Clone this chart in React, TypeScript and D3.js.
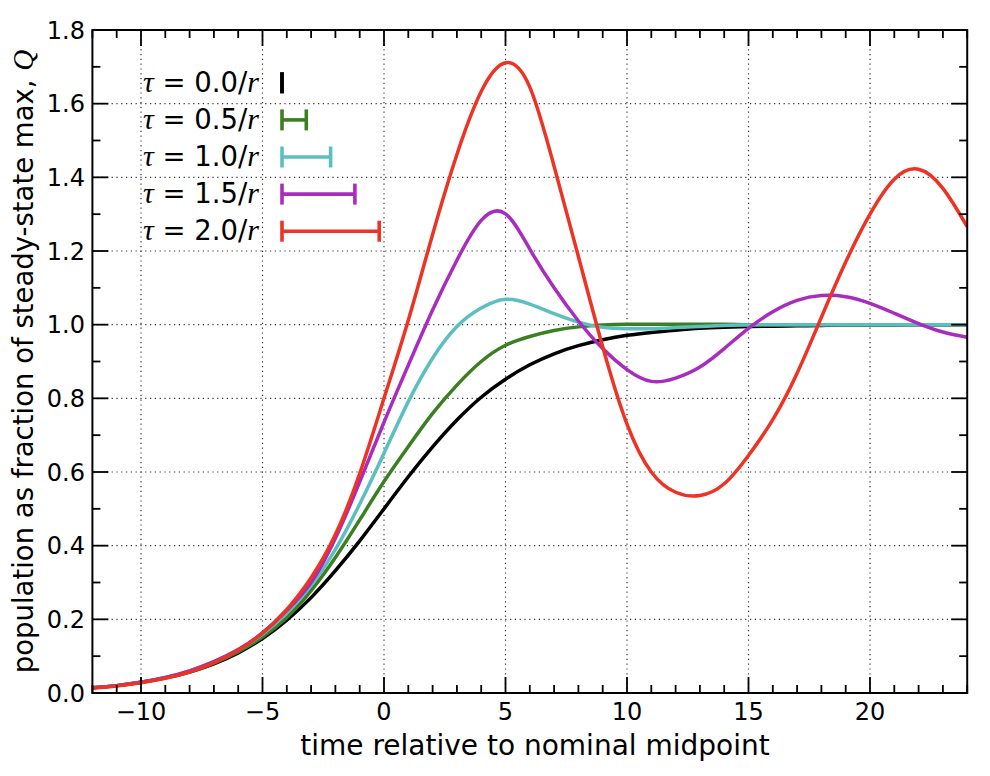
import React from 'react'
import * as d3 from 'd3'

// time axis samples (shared by every series)
const TIMES = [-12, -11, -10, -9, -8, -7, -6, -5, -4, -3, -2, -1, 0, 1, 2, 3, 4, 5, 6, 7, 8, 9, 10, 11, 12, 13, 14, 15, 16, 17, 18, 19, 20, 21, 22, 23, 24]

// population / steady-state max, one array per delay
const TAU_00 = [0.014, 0.020, 0.029, 0.041, 0.057, 0.079, 0.109, 0.148, 0.198, 0.259, 0.332, 0.413, 0.500, 0.587, 0.668, 0.741, 0.803, 0.852, 0.891, 0.921, 0.943, 0.959, 0.971, 0.979, 0.985, 0.990, 0.993, 0.995, 0.996, 0.997, 0.998, 0.999, 0.999, 0.999, 1.000, 1.000, 1.000]
const TAU_05 = [0.014, 0.020, 0.029, 0.041, 0.058, 0.081, 0.112, 0.152, 0.205, 0.278, 0.368, 0.470, 0.574, 0.669, 0.759, 0.836, 0.900, 0.944, 0.968, 0.984, 0.994, 0.999, 1.001, 1.001, 1.001, 1.001, 1.001, 1.000, 1.000, 1.000, 1.000, 1.000, 1.000, 1.000, 1.000, 1.000, 1.000]
const TAU_10 = [0.014, 0.020, 0.029, 0.042, 0.060, 0.085, 0.117, 0.160, 0.218, 0.292, 0.390, 0.513, 0.651, 0.791, 0.909, 0.995, 1.045, 1.069, 1.056, 1.030, 1.007, 0.993, 0.989, 0.989, 0.992, 0.995, 0.998, 0.999, 1.000, 1.000, 1.000, 1.000, 1.000, 1.000, 1.000, 1.000, 1.000]
const TAU_15 = [0.014, 0.020, 0.029, 0.042, 0.060, 0.085, 0.118, 0.163, 0.224, 0.300, 0.420, 0.573, 0.735, 0.890, 1.040, 1.175, 1.283, 1.301, 1.205, 1.100, 1.010, 0.935, 0.878, 0.846, 0.855, 0.885, 0.935, 0.990, 1.035, 1.066, 1.079, 1.076, 1.058, 1.031, 1.003, 0.980, 0.966]
const TAU_20 = [0.013, 0.019, 0.028, 0.040, 0.057, 0.082, 0.116, 0.163, 0.227, 0.313, 0.430, 0.596, 0.800, 1.012, 1.245, 1.462, 1.633, 1.711, 1.645, 1.430, 1.185, 0.940, 0.730, 0.600, 0.545, 0.536, 0.568, 0.645, 0.742, 0.868, 1.020, 1.170, 1.300, 1.395, 1.422, 1.370, 1.266]

const TAU_LABELS = ['0.0', '0.5', '1.0', '1.5', '2.0']
// delay length in time units, drawn as the legend bar
const DELAYS = [0, 1, 2, 3, 4]
const COLORS = ['#000000', '#3b7f22', '#5bbfc0', '#a82cbd', '#ec3324']

const X_TICKS = [-10, -5, 0, 5, 10, 15, 20]
const X_MINOR = [-12, -11, -10, -9, -8, -7, -6, -5, -4, -3, -2, -1, 0, 1, 2, 3, 4, 5, 6, 7, 8, 9, 10, 11, 12, 13, 14, 15, 16, 17, 18, 19, 20, 21, 22, 23, 24]
const Y_TICKS = [0, 0.2, 0.4, 0.6, 0.8, 1.0, 1.2, 1.4, 1.6, 1.8]
const Y_MINOR = [0, 0.1, 0.2, 0.3, 0.4, 0.5, 0.6, 0.7, 0.8, 0.9, 1.0, 1.1, 1.2, 1.3, 1.4, 1.5, 1.6, 1.7, 1.8]

const X_LABEL = 'time relative to nominal midpoint'
const Y_LABEL = 'population as fraction of steady-state max, '

const W = 990
const H = 776
const left = 92.4
const right = 967.2
const top = 30
const bottom = 693

const fmtX = (v: number) => (v < 0 ? '\u2212' + Math.abs(v) : String(v))

export default function App() {
  const x = d3.scaleLinear().domain([-12, 24]).range([left, right])
  const y = d3.scaleLinear().domain([0, 1.8]).range([bottom, top])

  const series = [TAU_00, TAU_05, TAU_10, TAU_15, TAU_20]

  const line = d3.line<number>()
    .x((_, i) => x(TIMES[i]))
    .y(d => y(d))
    .curve(d3.curveNatural)

  const major = 16
  const minor = 8
  const font = 'DejaVu Sans'
  const legendTop = 82.8
  const legendStep = 37.1
  const barX = 282

  return (
    <svg width={W} height={H} style={{ position: 'absolute', left: 0, top: 0, background: '#fff' }}>
      <defs>
        <clipPath id="plot-area">
          <rect x={left} y={top} width={right - left} height={bottom - top} />
        </clipPath>
      </defs>
      <rect width={W} height={H} fill="#fff" />

      {/* dotted grid at major ticks */}
      <g stroke="#000" strokeWidth={1.2} strokeDasharray="1.2,3.6" opacity={0.8}>
        {X_TICKS.map(t => (
          <line key={'gx' + t} x1={x(t)} x2={x(t)} y1={top} y2={bottom} />
        ))}
        {Y_TICKS.filter(v => v > 0 && v < 1.8).map(v => (
          <line key={'gy' + v} x1={left} x2={right} y1={y(v)} y2={y(v)} />
        ))}
      </g>

      {/* curves */}
      <g clipPath="url(#plot-area)" fill="none" strokeWidth={3.5} strokeLinejoin="round">
        {series.map((s, i) => (
          <path key={i} d={line(s) || ''} stroke={COLORS[i]} />
        ))}
      </g>

      {/* ticks on all four sides, pointing inward */}
      <g stroke="#000" strokeWidth={1.8}>
        {X_MINOR.map(t => {
          const len = X_TICKS.includes(t) ? major : minor
          return (
            <g key={'tx' + t}>
              <line x1={x(t)} x2={x(t)} y1={bottom} y2={bottom - len} />
              <line x1={x(t)} x2={x(t)} y1={top} y2={top + len} />
            </g>
          )
        })}
        {Y_MINOR.map(v => {
          const len = Y_TICKS.some(m => Math.abs(m - v) < 1e-9) ? major : minor
          return (
            <g key={'ty' + v}>
              <line x1={left} x2={left + len} y1={y(v)} y2={y(v)} />
              <line x1={right} x2={right - len} y1={y(v)} y2={y(v)} />
            </g>
          )
        })}
      </g>

      <rect x={left} y={top} width={right - left} height={bottom - top} fill="none" stroke="#000" strokeWidth={2} />

      {/* tick labels */}
      <g fontFamily={font} fontSize={24} fill="#000">
        {X_TICKS.map(t => (
          <text key={'lx' + t} x={x(t)} y={720} textAnchor="middle">{fmtX(t)}</text>
        ))}
        {Y_TICKS.map(v => (
          <text key={'ly' + v} x={85} y={y(v)} dy="0.36em" textAnchor="end">{v.toFixed(1)}</text>
        ))}
      </g>

      {/* axis titles */}
      <text x={535} y={755} textAnchor="middle" fontFamily={font} fontSize={28} fill="#000">
        {X_LABEL}
      </text>
      <text
        transform={`translate(33, ${(top + bottom) / 2}) rotate(-90)`}
        textAnchor="middle"
        fontFamily={font}
        fontSize={27.5}
        fill="#000"
      >
        {Y_LABEL}
        <tspan fontFamily="Liberation Serif" fontStyle="italic" fontSize={29}>Q</tspan>
      </text>

      {/* legend: label and delay bar for each series */}
      {TAU_LABELS.map((lab, i) => {
        const cy = legendTop + i * legendStep
        const x2 = barX + (x(DELAYS[i]) - x(0))
        return (
          <g key={'lg' + i}>
            <text x={143} y={cy + 8.9} fontFamily={font} fontSize={27.5} fill="#000">
              <tspan fontFamily="Liberation Serif" fontStyle="italic" fontSize={30}>τ</tspan>
              {' = ' + lab + '/'}
              <tspan fontFamily="Liberation Serif" fontStyle="italic" fontSize={30}>r</tspan>
            </text>
            <g stroke={COLORS[i]} strokeWidth={3.6}>
              <line x1={barX} x2={x2} y1={cy} y2={cy} />
              <line x1={barX} x2={barX} y1={cy - 10.5} y2={cy + 10.5} />
              <line x1={x2} x2={x2} y1={cy - 10.5} y2={cy + 10.5} />
            </g>
          </g>
        )
      })}
    </svg>
  )
}
